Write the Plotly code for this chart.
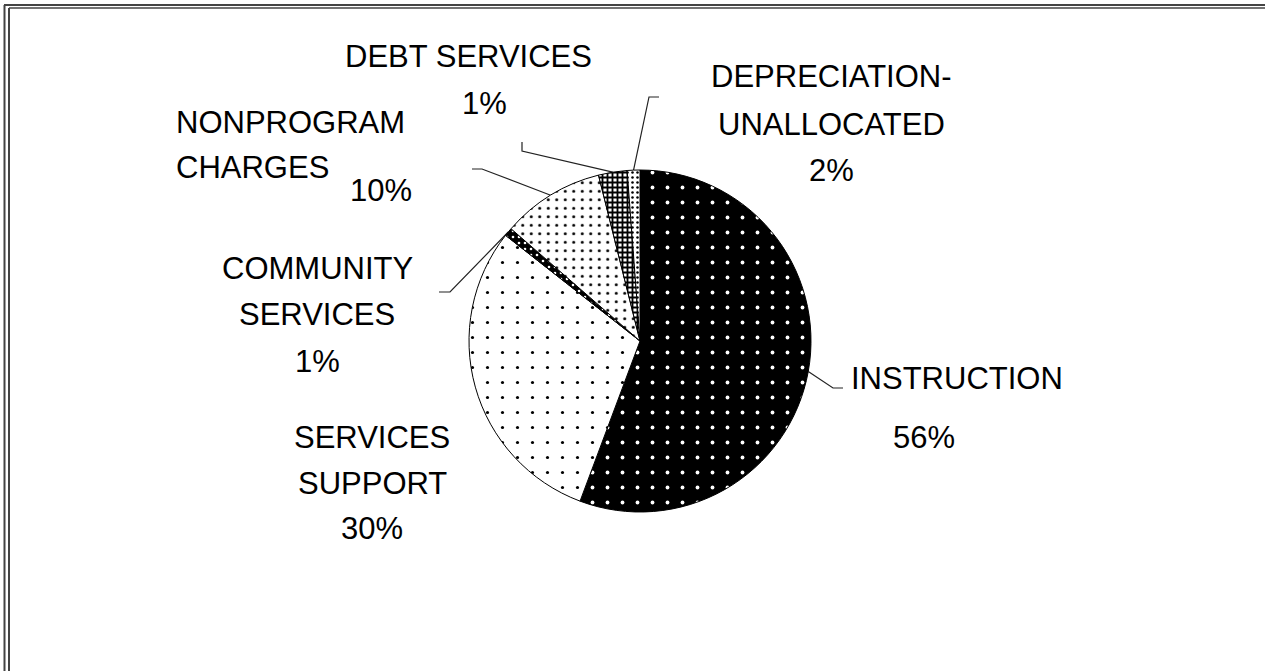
import math
import plotly.graph_objects as go

# ---------------- data ----------------
categories = ["INSTRUCTION", "SERVICES SUPPORT", "COMMUNITY SERVICES",
              "NONPROGRAM CHARGES", "DEBT SERVICES", "DEPRECIATION-UNALLOCATED"]
values = [55.7, 29.9, 0.8, 9.7, 2.7, 1.2]
pct_labels = ["56%", "30%", "1%", "10%", "1%", "2%"]

# ---------------- layout constants ----------------
W, H = 1265, 671
CX, CY, R = 640, 341, 171
FONT = "Liberation Sans, Arial, sans-serif"
FS = 31

# label lines per category: (text, x, y, xanchor)
label_lines = {
    "INSTRUCTION": [("INSTRUCTION", 849, 378, "left"), (pct_labels[0], 924, 437, "center")],
    "SERVICES SUPPORT": [("SERVICES", 372, 437, "center"), ("SUPPORT", 372, 483, "center"),
                         (pct_labels[1], 372, 528, "center")],
    "COMMUNITY SERVICES": [("COMMUNITY", 317, 268, "center"), ("SERVICES", 317, 314, "center"),
                           (pct_labels[2], 317, 361, "center")],
    "NONPROGRAM CHARGES": [("NONPROGRAM", 174, 122, "left"), ("CHARGES", 174, 167, "left"),
                           (pct_labels[3], 381, 190, "center")],
    "DEBT SERVICES": [("DEBT SERVICES", 468, 56, "center"), (pct_labels[4], 484, 103, "center")],
    "DEPRECIATION-UNALLOCATED": [("DEPRECIATION-", 831, 76, "center"), ("UNALLOCATED", 831, 124, "center"),
                                 (pct_labels[5], 831, 170, "center")],
}
# leader line elbow points (after the rim point)
leader_elbows = {
    "INSTRUCTION": [(833, 388), (843, 388)],
    "COMMUNITY SERVICES": [(450, 292), (439, 292)],
    "NONPROGRAM CHARGES": [(482, 169), (472, 169)],
    "DEBT SERVICES": [(522, 151), (522, 142)],
    "DEPRECIATION-UNALLOCATED": [(649, 97), (659, 97)],
}

# patterns
pat_shape = [".", ".", ".", ".", "+", "."]
pat_bg = ["black", "white", "black", "white", "white", "white"]
pat_fg = ["white", "black", "white", "black", "black", "black"]
pat_size = [15, 15, 6, 8.5, 5, 5]
pat_solid = [0.05, 0.035, 0.15, 0.1, 0.6, 0.2]

fig = go.Figure()

fig.add_trace(go.Pie(
    labels=categories, values=values, sort=False, direction="clockwise", rotation=0,
    textinfo="none", hoverinfo="label+percent", showlegend=False,
    domain=dict(x=[(CX - R) / W, (CX + R) / W], y=[(H - CY - R) / H, (H - CY + R) / H]),
    marker=dict(colors=pat_bg, line=dict(color="black", width=1),
                pattern=dict(shape=pat_shape, bgcolor=pat_bg, fgcolor=pat_fg,
                             size=pat_size, solidity=pat_solid, fillmode="replace")),
))

# leader lines computed from slice mid-angles
total = sum(values)
cum = 0.0
for cat, v in zip(categories, values):
    mid = (cum + v / 2) / total * 2 * math.pi
    cum += v
    if cat not in leader_elbows:
        continue
    rx = CX + R * math.sin(mid)
    ry = CY - R * math.cos(mid)
    pts = [(rx, ry)] + leader_elbows[cat]
    fig.add_trace(go.Scatter(x=[p[0] for p in pts], y=[p[1] for p in pts], mode="lines",
                             line=dict(color="#222222", width=1.2), hoverinfo="skip",
                             showlegend=False, xaxis="x", yaxis="y"))

annotations = []
for cat in categories:
    for txt, x, y, xa in label_lines[cat]:
        annotations.append(dict(text=txt, x=x, y=y, xref="x", yref="y", showarrow=False,
                                xanchor=xa, yanchor="middle",
                                font=dict(family=FONT, size=FS, color="black")))

# double border
shapes = [
    dict(type="line", xref="x", yref="y", x0=4.5, x1=4.5, y0=5, y1=H + 5, line=dict(color="#444", width=2)),
    dict(type="line", xref="x", yref="y", x0=9, x1=9, y0=8, y1=H + 5, line=dict(color="#444", width=2)),
    dict(type="line", xref="x", yref="y", x0=4, x1=W + 5, y0=5, y1=5, line=dict(color="#444", width=2)),
    dict(type="line", xref="x", yref="y", x0=9, x1=W + 5, y0=8, y1=8, line=dict(color="#444", width=1.5)),
]

fig.update_layout(
    width=W, height=H, margin=dict(l=0, r=0, t=0, b=0),
    paper_bgcolor="white", plot_bgcolor="rgba(0,0,0,0)",
    xaxis=dict(range=[0, W], visible=False, fixedrange=True, domain=[0, 1]),
    yaxis=dict(range=[H, 0], visible=False, fixedrange=True, domain=[0, 1]),
    annotations=annotations, shapes=shapes,
)

fig.write_html("out.html")
